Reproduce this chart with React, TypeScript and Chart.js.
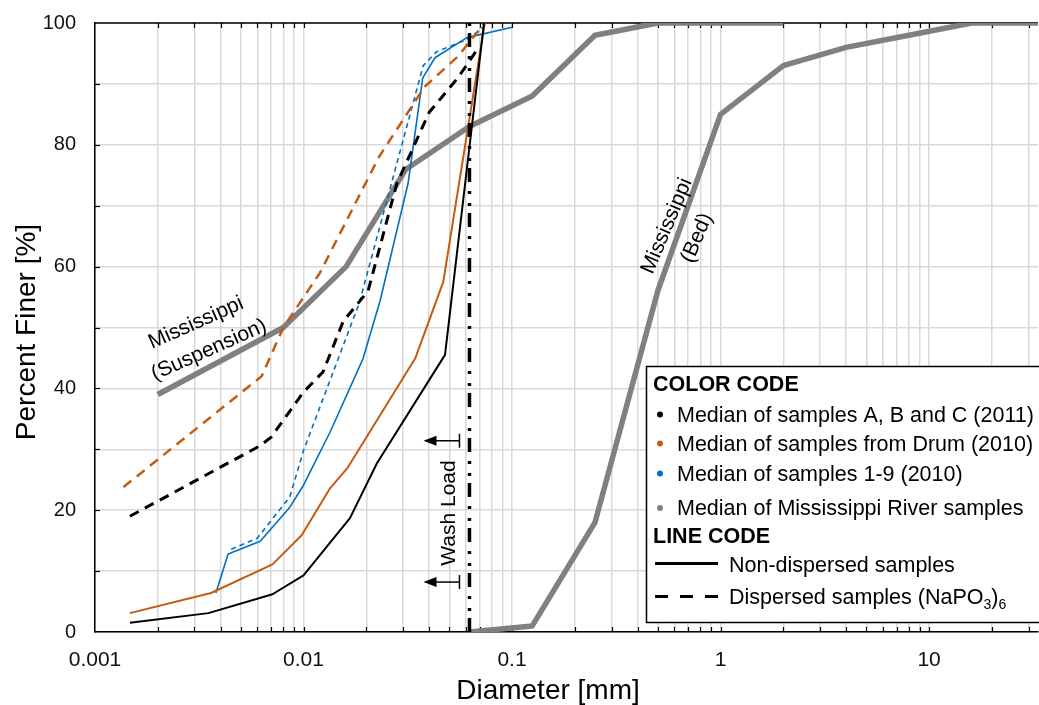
import React, { useEffect, useRef } from 'react';
import { Chart, registerables } from 'chart.js';

Chart.register(...registerables);

// ---- Data (diameter in mm, percent finer in %) ----
const abcNonDispD = [0.00147, 0.0035, 0.0071, 0.01, 0.0167, 0.0225, 0.0477, 0.0734];
const abcNonDispP = [1.5, 3.1, 6.2, 9.3, 18.7, 27.7, 45.5, 100];

const abcDispD = [0.00147, 0.0062, 0.007, 0.01, 0.0124, 0.0155, 0.0204, 0.028, 0.04, 0.055, 0.068];
const abcDispP = [19, 30.6, 32, 39.4, 42.7, 51, 56, 73.6, 85.3, 91, 95.6];

const drumNonDispD = [0.00147, 0.0036, 0.0071, 0.0098, 0.0134, 0.0163, 0.0343, 0.0468, 0.074];
const drumNonDispP = [3.1, 6.4, 11.1, 15.9, 23.6, 27, 44.9, 57.5, 100];

const drumDispD = [0.00137, 0.0063, 0.008, 0.012, 0.023, 0.038, 0.055, 0.074];
const drumDispP = [23.8, 42, 50, 59, 78, 89.5, 94.5, 100];

const s19NonDispD = [0.0038, 0.00435, 0.0062, 0.0086, 0.01, 0.0134, 0.0193, 0.0233, 0.0317, 0.0373, 0.0427, 0.0607, 0.1];
const s19NonDispP = [6.4, 12.8, 14.9, 20.5, 24.1, 32.8, 44.9, 54.4, 73.6, 91, 94.3, 97.6, 99.3];

const s19DispD = [0.0045, 0.006, 0.0086, 0.01, 0.0185, 0.0375, 0.0435, 0.061, 0.073];
const s19DispP = [13.6, 15.4, 22.2, 29.8, 54, 93, 95.3, 97.3, 99.3];

const missSuspD = [0.002, 0.008, 0.016, 0.031, 0.0625, 0.125, 0.25, 0.5, 1, 2];
const missSuspP = [39, 50, 60, 76, 83, 88, 98, 100, 100, 100];

const missBedD = [0.0625, 0.125, 0.25, 0.5, 1, 2, 4, 8, 16, 32, 64];
const missBedP = [0, 1, 18, 56, 85, 93, 96, 98, 100, 100, 100];

const washLoadD = 0.0625;
const washLoadP = [0, 100];
const washArrowP = [31.4, 8.2];

// ---- Axes ----
const xMin = 0.001;
const xMax = 33.3;
const xDecades = [0.001, 0.01, 0.1, 1, 10];
const xTickLabels = ['0.001', '0.01', '0.1', '1', '10'];
const xMantissas = [1, 2, 3, 4, 5, 6, 7, 8, 9];
const yMin = 0;
const yMax = 100;
const yStep = 10;
const yLabelStep = 20;

// ---- Text ----
const xTitle = 'Diameter [mm]';
const yTitle = 'Percent Finer [%]';
const legendColorTitle = 'COLOR CODE';
const legendLineTitle = 'LINE CODE';
const legendColorItems = [
  'Median of samples A, B and C (2011)',
  'Median of samples from Drum (2010)',
  'Median of samples 1-9 (2010)',
  'Median of Mississippi River samples',
];
const legendLineItems = ['Non-dispersed samples', 'Dispersed samples (NaPO'];

const BLACK = '#000000';
const ORANGE = '#C55A11';
const BLUE = '#0070C0';
const GRAY = '#808080';
const legendColors = [BLACK, ORANGE, BLUE, GRAY];

const FONT = "'Liberation Sans', Arial, Helvetica, sans-serif";

const pts = (d: number[], p: number[]) => d.map((v, i) => ({ x: v, y: p[i] }));

const xGridValues: number[] = [];
xDecades.forEach((dec) => xMantissas.forEach((m) => xGridValues.push(+(m * dec).toPrecision(6))));

const decorPlugin = {
  id: 'decor',
  beforeDatasetsDraw(chart: any) {
    const { ctx, chartArea: ca, scales } = chart;
    const xs = scales.x;
    const ys = scales.y;
    ctx.save();
    ctx.strokeStyle = '#000';
    ctx.lineWidth = 1.5;
    // top border
    ctx.beginPath();
    ctx.moveTo(ca.left, ca.top);
    ctx.lineTo(ca.right, ca.top);
    ctx.stroke();
    // inward ticks on bottom & top
    ctx.lineWidth = 1.2;
    xs.ticks.forEach((t: any) => {
      const px = Math.round(xs.getPixelForValue(t.value)) + 0.5;
      if (px <= ca.left + 1 || px > ca.right) return;
      ctx.beginPath();
      ctx.moveTo(px, ca.bottom);
      ctx.lineTo(px, ca.bottom - 5);
      ctx.moveTo(px, ca.top);
      ctx.lineTo(px, ca.top + 5);
      ctx.stroke();
    });
    ys.ticks.forEach((t: any) => {
      const py = Math.round(ys.getPixelForValue(t.value)) + 0.5;
      if (py >= ca.bottom - 1 || py <= ca.top + 1) return;
      ctx.beginPath();
      ctx.moveTo(ca.left, py);
      ctx.lineTo(ca.left + 5, py);
      ctx.stroke();
    });
    ctx.restore();
  },
  afterDatasetsDraw(chart: any) {
    const { ctx, scales } = chart;
    const xs = scales.x;
    const ys = scales.y;
    ctx.save();
    ctx.fillStyle = '#000';
    ctx.strokeStyle = '#000';

    // Axis titles
    ctx.font = `28px ${FONT}`;
    ctx.textAlign = 'center';
    ctx.textBaseline = 'alphabetic';
    ctx.fillText(xTitle, 548, 699);
    ctx.save();
    ctx.translate(35, 332);
    ctx.rotate(-Math.PI / 2);
    ctx.fillText(yTitle, 0, 0);
    ctx.restore();

    // Wash load arrows
    const xw = xs.getPixelForValue(washLoadD);
    ctx.lineWidth = 1.5;
    washArrowP.forEach((v) => {
      const py = ys.getPixelForValue(v);
      const x1 = xw - 10;
      const x0 = xw - 46;
      ctx.beginPath();
      ctx.moveTo(x1, py);
      ctx.lineTo(x0 + 10, py);
      ctx.stroke();
      ctx.beginPath();
      ctx.moveTo(x0, py);
      ctx.lineTo(x0 + 13, py - 5);
      ctx.lineTo(x0 + 13, py + 5);
      ctx.closePath();
      ctx.fill();
      ctx.beginPath();
      ctx.moveTo(x1, py - 7);
      ctx.lineTo(x1, py + 7);
      ctx.stroke();
    });
    ctx.font = `21px ${FONT}`;
    ctx.textAlign = 'center';
    ctx.textBaseline = 'middle';
    ctx.save();
    ctx.translate(xw - 20, 513);
    ctx.rotate(-Math.PI / 2);
    ctx.fillText('Wash Load', 0, 0);
    ctx.restore();

    // Mississippi labels
    const rot = (txt: string, cx: number, cy: number, deg: number) => {
      ctx.save();
      ctx.translate(cx, cy);
      ctx.rotate((deg * Math.PI) / 180);
      ctx.fillText(txt, 0, 0);
      ctx.restore();
    };
    rot('Mississippi', 196, 323, -24);
    rot('(Suspension)', 209, 350, -24);
    rot('Mississippi', 667, 226, -67);
    rot('(Bed)', 697, 238, -67);

    // Legend box
    const lx = 646.5;
    const ly = 366.5;
    ctx.fillStyle = '#fff';
    ctx.fillRect(lx, ly, 420, 256);
    ctx.lineWidth = 1.5;
    ctx.strokeRect(lx, ly, 420, 256);
    ctx.fillStyle = '#000';
    ctx.textAlign = 'left';
    ctx.textBaseline = 'alphabetic';
    ctx.font = `bold 21.5px ${FONT}`;
    ctx.fillText(legendColorTitle, 653, 391);
    ctx.fillText(legendLineTitle, 653, 543);
    ctx.font = `21.5px ${FONT}`;
    const baselines = [421.5, 450.5, 480.5, 515];
    legendColorItems.forEach((t, i) => {
      ctx.fillStyle = legendColors[i];
      ctx.beginPath();
      ctx.arc(660, baselines[i] - 7, 3, 0, Math.PI * 2);
      ctx.fill();
      ctx.fillStyle = '#000';
      ctx.fillText(t, 677, baselines[i]);
    });
    // line code
    ctx.lineWidth = 3;
    ctx.beginPath();
    ctx.moveTo(655, 563.5);
    ctx.lineTo(718, 563.5);
    ctx.stroke();
    ctx.setLineDash([13, 12]);
    ctx.beginPath();
    ctx.moveTo(655, 596.5);
    ctx.lineTo(718, 596.5);
    ctx.stroke();
    ctx.setLineDash([]);
    ctx.fillText(legendLineItems[0], 729, 571.5);
    ctx.fillText(legendLineItems[1], 729, 604);
    let tx = 729 + ctx.measureText(legendLineItems[1]).width;
    ctx.font = `14px ${FONT}`;
    ctx.fillText('3', tx, 609);
    tx += ctx.measureText('3').width;
    ctx.font = `21.5px ${FONT}`;
    ctx.fillText(')', tx, 604);
    tx += ctx.measureText(')').width;
    ctx.font = `14px ${FONT}`;
    ctx.fillText('6', tx, 609);

    ctx.restore();
  },
};

export default function App() {
  const ref = useRef<HTMLCanvasElement | null>(null);
  useEffect(() => {
    if (!ref.current) return;
    const line = (data: any, color: string, width: number, dash: number[] = [], order = 1) => ({
      data,
      borderColor: color,
      backgroundColor: color,
      borderWidth: width,
      borderDash: dash,
      pointRadius: 0,
      tension: 0,
      fill: false,
      order,
      borderCapStyle: 'butt',
      borderJoinStyle: 'round',
    });
    const chart = new Chart(ref.current, {
      type: 'line',
      data: {
        datasets: [
          line(pts([washLoadD, washLoadD], washLoadP), BLACK, 3.5, [14, 7, 3, 9, 3, 9], 0),
          line(pts(abcNonDispD, abcNonDispP), BLACK, 2),
          line(pts(abcDispD, abcDispP), BLACK, 3, [10, 7]),
          line(pts(drumNonDispD, drumNonDispP), ORANGE, 2),
          line(pts(drumDispD, drumDispP), ORANGE, 2.5, [10, 7]),
          line(pts(s19NonDispD, s19NonDispP), BLUE, 1.6),
          line(pts(s19DispD, s19DispP), BLUE, 1.6, [5, 4]),
          line(pts(missSuspD, missSuspP), GRAY, 5.5, [], 10),
          line(pts(missBedD, missBedP), GRAY, 5.5, [], 10),
        ] as any,
      },
      options: {
        responsive: false,
        animation: false,
        parsing: false as any,
        layout: { padding: { top: 23, right: 1, left: 0, bottom: 0 } },
        plugins: { legend: { display: false }, tooltip: { enabled: false }, title: { display: false } },
        scales: {
          x: {
            type: 'logarithmic',
            min: xMin,
            max: xMax,
            afterFit: (s: any) => {
              s.height = 73;
              s.paddingLeft = 0;
              s.paddingRight = 0;
            },
            afterBuildTicks: (s: any) => {
              s.ticks = xGridValues.filter((v) => v >= xMin && v <= xMax).map((v) => ({ value: v }));
            },
            grid: { color: '#d9d9d9', lineWidth: 1.5, drawTicks: false },
            border: { display: true, color: '#000', width: 1.5 },
            ticks: {
              autoSkip: false,
              maxRotation: 0,
              minRotation: 0,
              padding: 16,
              color: '#111',
              font: { family: FONT, size: 21 },
              callback: (v: any) => {
                const i = xDecades.findIndex((d) => Math.abs(d - Number(v)) < d * 1e-6);
                return i >= 0 ? xTickLabels[i] : '';
              },
            },
          },
          y: {
            type: 'linear',
            min: yMin,
            max: yMax,
            afterFit: (s: any) => {
              s.width = 95;
              s.paddingTop = 0;
              s.paddingBottom = 0;
            },
            grid: { color: '#d9d9d9', lineWidth: 1.5, drawTicks: false },
            border: { display: true, color: '#000', width: 1.5 },
            ticks: {
              stepSize: yStep,
              padding: 19,
              color: '#111',
              font: { family: FONT, size: 20 },
              callback: (v: any) => (Number(v) % yLabelStep === 0 ? String(v) : ''),
            },
          },
        },
      } as any,
      plugins: [decorPlugin],
    });
    return () => chart.destroy();
  }, []);
  return (
    <div style={{ position: 'fixed', left: 0, top: 0, width: 1039, height: 705, background: '#fff' }}>
      <canvas ref={ref} width={1039} height={705} style={{ width: 1039, height: 705, display: 'block' }} />
    </div>
  );
}
